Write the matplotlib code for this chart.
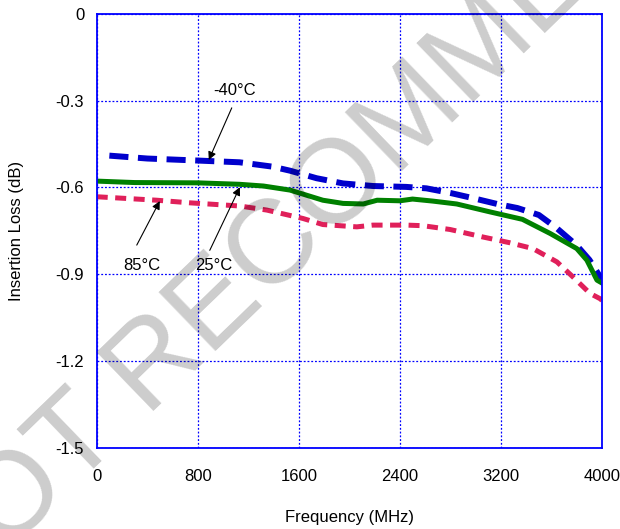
import matplotlib.pyplot as plt

plt.rcParams['font.family'] = ['Liberation Sans', 'DejaVu Sans']

# -40C
freq_m40 = [100, 400, 800, 1130, 1390, 1530, 1740, 1950, 2190, 2450, 2610, 2800, 2980,
            3170, 3330, 3500, 3640, 3800, 3900, 3980, 4000]
il_m40 = [-0.49, -0.50, -0.507, -0.513, -0.528, -0.542, -0.568, -0.586, -0.595, -0.598,
          -0.603, -0.619, -0.637, -0.657, -0.671, -0.695, -0.74, -0.80, -0.85, -0.905, -0.92]

# 25C
freq_25 = [0, 300, 800, 1130, 1320, 1530, 1790, 1950, 2110, 2220, 2400, 2500, 2660, 2850,
           3110, 3370, 3590, 3800, 3880, 3960, 4000]
il_25 = [-0.578, -0.583, -0.584, -0.589, -0.595, -0.609, -0.644, -0.655, -0.657, -0.644,
         -0.646, -0.64, -0.647, -0.657, -0.684, -0.71, -0.759, -0.811, -0.851, -0.92, -0.93]

# 85C
freq_85 = [0, 475, 737, 1133, 1346, 1632, 1790, 2059, 2186, 2455, 2582, 2796, 3057, 3271,
           3453, 3643, 3770, 3905, 3984, 4000]
il_85 = [-0.632, -0.644, -0.653, -0.664, -0.678, -0.707, -0.728, -0.736, -0.730, -0.730,
         -0.732, -0.745, -0.771, -0.791, -0.811, -0.857, -0.909, -0.966, -0.984, -0.99]

xticks = [0, 800, 1600, 2400, 3200, 4000]
yticks = [0, -0.3, -0.6, -0.9, -1.2, -1.5]
ytick_labels = ['0', '-0.3', '-0.6', '-0.9', '-1.2', '-1.5']

fig = plt.figure(figsize=(6.2, 5.29), dpi=100)
ax = fig.add_axes([0.156, 0.153, 0.815, 0.821])

ax.plot(freq_m40, il_m40, color='#0000cc', lw=4.3, dashes=(3.2, 1.6), solid_capstyle='butt')
ax.plot(freq_25, il_25, color='#008000', lw=3.6)
ax.plot(freq_85, il_85, color='#e0205a', lw=3.6, dashes=(2.2, 1.5))

ax.set_xlim(0, 4000)
ax.set_ylim(-1.5, 0)
ax.set_xticks(xticks)
ax.set_yticks(yticks)
ax.set_yticklabels(ytick_labels)
ax.tick_params(length=0, labelsize=12, pad=9)
ax.tick_params(axis='x', pad=15)
ax.grid(True, color='#0000ff', ls=(0, (1.5, 1.5)), lw=0.9)
for s in ax.spines.values():
    s.set_color('#0000ff')
    s.set_linewidth(1.3)

ax.set_xlabel('Frequency (MHz)', fontsize=12, labelpad=19)
ax.set_ylabel('Insertion Loss (dB)', fontsize=12, labelpad=23)

ap = dict(arrowstyle='-|>', color='black', lw=0.8, mutation_scale=12, shrinkA=0, shrinkB=0)
ax.annotate('', xy=(887, -0.505), xytext=(1069, -0.325), arrowprops=ap)
ax.text(1093, -0.266, '-40°C', fontsize=12, ha='center', va='center')
ax.annotate('', xy=(499, -0.647), xytext=(317, -0.799), arrowprops=ap)
ax.text(356, -0.868, '85°C', fontsize=12, ha='center', va='center')
ax.annotate('', xy=(1133, -0.599), xytext=(895, -0.817), arrowprops=ap)
ax.text(927, -0.868, '25°C', fontsize=12, ha='center', va='center')

fig.text(0.597, 0.698, 'NOT RECOMMENDED', fontsize=86, rotation=44, color='black',
         alpha=0.2, ha='center', va='center', rotation_mode='anchor', zorder=10)

plt.savefig('out.png', dpi=100)
